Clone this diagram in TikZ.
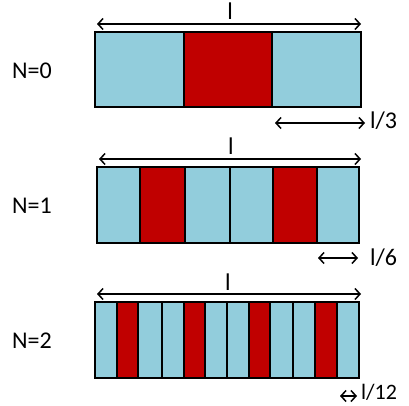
\documentclass[tikz,border=0pt]{standalone}
\usepackage{fontspec}
\setmainfont{Carlito}
\usetikzlibrary{arrows.meta}
\definecolor{paleblue}{RGB}{146,205,220}
\definecolor{darkred}{RGB}{192,0,0}
\tikzset{
	cellblue/.style={draw=black, line width=2.5pt, fill=paleblue},
	cellred/.style={draw=black, line width=2.5pt, fill=darkred},
	dimarrow/.style={line width=1.5pt, {Straight Barb[length=5pt,width=11pt]}-{Straight Barb[length=5pt,width=11pt]}},
	lbl/.style={font=\fontsize{24}{28}\selectfont, inner sep=0pt}
}

\begin{document}
\begin{tikzpicture}[x=1pt, y=-1pt]
			%%%%% START %%%%%
			\useasboundingbox (0, 0) rectangle (409, 406);
			
			% N=0
			\node[lbl] (n0) at (32, 71) {N=0};
			\draw[cellblue] (95, 32) rectangle (184, 107);
			\draw[cellred] (184, 32) rectangle (272, 107);
			\draw[cellblue] (272, 32) rectangle (361, 107);
			
			\coordinate (t0a) at (97, 24);
			\coordinate (t0b) at (361, 24);
			\draw[dimarrow] (t0a) -- (t0b);
			\node[lbl] (l0) at (230, 11) {l};
			
			\coordinate (b0a) at (275, 123);
			\coordinate (b0b) at (365, 123);
			\draw[dimarrow] (b0a) -- (b0b);
			\node[lbl, anchor=west] (f0) at (370, 121) {l/3};
			
			% N=1
			\node[lbl] (n1) at (32, 206) {N=1};
			\draw[cellblue] (97, 167) rectangle (140, 243);
			\draw[cellred] (140, 167) rectangle (185, 243);
			\draw[cellblue] (185, 167) rectangle (230, 243);
			\draw[cellblue] (230, 167) rectangle (273, 243);
			\draw[cellred] (273, 167) rectangle (317, 243);
			\draw[cellblue] (317, 167) rectangle (359, 243);
			
			\coordinate (t1a) at (99, 159);
			\coordinate (t1b) at (361, 159);
			\draw[dimarrow] (t1a) -- (t1b);
			\node[lbl] (l1) at (231, 146) {l};
			
			\coordinate (b1a) at (318, 258);
			\coordinate (b1b) at (358, 258);
			\draw[dimarrow] (b1a) -- (b1b);
			\node[lbl, anchor=west] (f1) at (370, 258) {l/6};
			
			% N=2
			\node[lbl] (n2) at (32, 341) {N=2};
			\draw[cellblue] (95, 302) rectangle (117, 378);
			\draw[cellred] (117, 302) rectangle (138, 378);
			\draw[cellblue] (138, 302) rectangle (162, 378);
			\draw[cellblue] (162, 302) rectangle (184, 378);
			\draw[cellred] (184, 302) rectangle (205, 378);
			\draw[cellblue] (205, 302) rectangle (227, 378);
			\draw[cellblue] (227, 302) rectangle (249, 378);
			\draw[cellred] (249, 302) rectangle (270, 378);
			\draw[cellblue] (270, 302) rectangle (293, 378);
			\draw[cellblue] (293, 302) rectangle (315, 378);
			\draw[cellred] (315, 302) rectangle (337, 378);
			\draw[cellblue] (337, 302) rectangle (359, 378);
			
			\coordinate (t2a) at (97, 294);
			\coordinate (t2b) at (361, 294);
			\draw[dimarrow] (t2a) -- (t2b);
			\node[lbl] (l2) at (228, 282) {l};
			
			\coordinate (b2a) at (340, 396);
			\coordinate (b2b) at (357, 396);
			\draw[dimarrow] (b2a) -- (b2b);
			\node[lbl, anchor=west, font=\fontsize{22}{26}\selectfont] (f2) at (361, 392) {l/12};
			%%%%% END %%%%%
\end{tikzpicture}
\end{document}
